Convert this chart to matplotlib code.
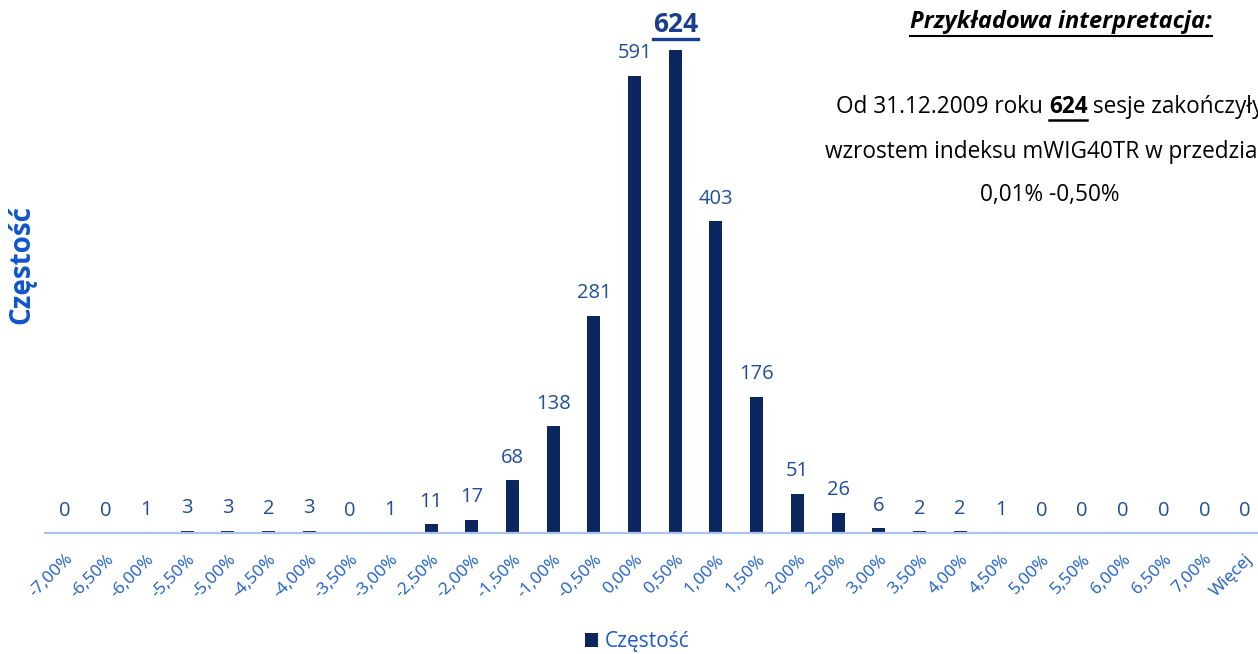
import matplotlib
matplotlib.use("Agg")
import matplotlib.pyplot as plt
from matplotlib.lines import Line2D

plt.rcParams['font.family'] = ['Open Sans', 'DejaVu Sans']

bins = ['-7,00%', '-6,50%', '-6,00%', '-5,50%', '-5,00%', '-4,50%', '-4,00%',
        '-3,50%', '-3,00%', '-2,50%', '-2,00%', '-1,50%', '-1,00%', '-0,50%',
        '0,00%', '0,50%', '1,00%', '1,50%', '2,00%', '2,50%', '3,00%',
        '3,50%', '4,00%', '4,50%', '5,00%', '5,50%', '6,00%', '6,50%',
        '7,00%', 'Więcej']
counts = [0, 0, 1, 3, 3, 2, 3, 0, 1, 11, 17, 68, 138, 281, 591, 624, 403,
          176, 51, 26, 6, 2, 2, 1, 0, 0, 0, 0, 0, 0]
series_name = 'Częstość'
title_text = 'Przykładowa interpretacja:'
note_lines = [('Od 31.12.2009 roku ', '624', ' sesje zakończyły'),
              ('wzrostem indeksu mWIG40TR w przedziale',),
              ('0,01% -0,50%',)]

BAR = '#0c2660'
TICK_BLUE = '#1a5cc8'
VAL_BLUE = '#1f4e9e'
AXIS_LINE = '#a9c4ea'

W, H = 1258, 654
fig = plt.figure(figsize=(W / 100, H / 100), dpi=100)

# plot area in pixels (right edge runs off the canvas, like the source)
left_px, bottom_px, width_px, top_px = 44.6, 533, 1220.7, 7
ax = fig.add_axes([left_px / W, 1 - bottom_px / H, width_px / W,
                   (bottom_px - top_px) / H])

x = list(range(len(bins)))
bars = ax.bar(x, counts, width=0.32, color=BAR, label=series_name, zorder=2)
ax.set_xlim(-0.5, len(bins) - 0.5)
ax.set_ylim(0, 680)

for sp in ['top', 'right', 'left']:
    ax.spines[sp].set_visible(False)
ax.spines['bottom'].set_color(AXIS_LINE)
ax.spines['bottom'].set_linewidth(1.6)
ax.set_yticks([])
ax.set_xticks(x)
ax.set_xticklabels(bins, rotation=45, ha='right', va='top',
                   rotation_mode='anchor', color=TICK_BLUE, fontsize=12.5)
ax.tick_params(axis='x', length=0, pad=13)

peak = counts.index(max(counts))
for i, v in enumerate(counts):
    if i == peak:
        continue
    ax.annotate(str(v), (i, v), xytext=(0, 9), textcoords='offset points',
                ha='center', va='bottom', fontsize=14.5, color=VAL_BLUE)
peak_lbl = ax.annotate(str(counts[peak]), (peak, counts[peak]), xytext=(0, 9),
                       textcoords='offset points', ha='center', va='bottom',
                       fontsize=19, fontweight='bold', color='#173f8f')

fig.text(22 / W, 1 - 265 / H, series_name, rotation=90, ha='center',
         va='center', fontsize=20, fontweight='bold', color='#1155cc')

leg = fig.legend(handles=[bars], loc='center',
                 bbox_to_anchor=(0.5 + 8 / W, 1 - 642 / H),
                 frameon=False, fontsize=15, handlelength=0.65, handleheight=0.65,
                 handletextpad=0.3, borderaxespad=0)
for t in leg.get_texts():
    t.set_color(TICK_BLUE)

title = fig.text(1061 / W, 1 - 22 / H, title_text, ha='center', va='center',
                 fontsize=17, fontweight='bold', fontstyle='italic', color='black')

fig.canvas.draw()
r = fig.canvas.get_renderer()


def underline(t, lw=1.5, color='black', gap=2):
    bb = t.get_window_extent(r)
    fig.add_artist(Line2D([bb.x0 / W, bb.x1 / W],
                          [(bb.y0 - gap) / H, (bb.y0 - gap) / H],
                          transform=fig.transFigure, color=color, lw=lw))


underline(title)
underline(peak_lbl, lw=2.4, color='#173f8f', gap=1)

# note text: centred lines, middle piece of first line bold+underlined;
# the source box runs past the right edge, so the long lines are cut there too
note_cx = 1050
line_y = [107, 152, 195]
fs = 16.3


def width_of(s, **kw):
    t = fig.text(0, 0, s.replace(' ', '\u00a0'), fontsize=fs, **kw)
    w = t.get_window_extent(r).width
    t.remove()
    return w


for pieces, yy in zip(note_lines, line_y):
    styles = [dict() if k % 2 == 0 else dict(fontweight='bold')
              for k in range(len(pieces))]
    widths = [width_of(p, **st) for p, st in zip(pieces, styles)]
    xx = note_cx - sum(widths) / 2
    for k, (p, st, w) in enumerate(zip(pieces, styles, widths)):
        t = fig.text(xx / W, 1 - yy / H, p.replace(' ', '\u00a0'), ha='left',
                     va='center', fontsize=fs, color='black', **st)
        if k % 2 == 1:
            fig.canvas.draw()
            underline(t, lw=1.8, gap=1)
        xx += w

fig.savefig('out.png', dpi=100)
